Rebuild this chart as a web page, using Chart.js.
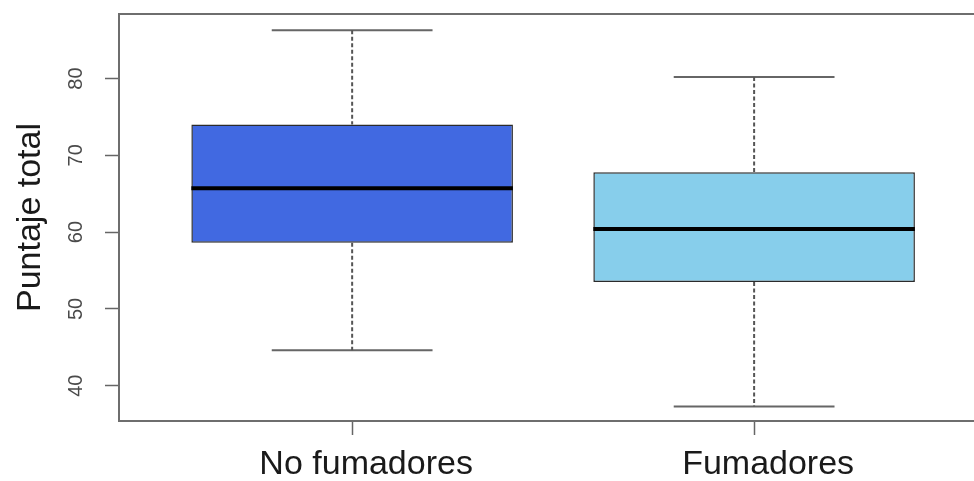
<!DOCTYPE html>
<html>
<head>
<meta charset="utf-8">
<script src="https://cdn.jsdelivr.net/npm/chart.js@4/dist/chart.umd.min.js"></script>
<style>
    html, body { margin: 0; padding: 0; background: #fff; }
    #wrap { width: 974px; height: 481px; }
</style>
</head>
<body>
<div id="wrap"><canvas id="boxChart" width="974" height="481"></canvas></div>
<script>
// Box plot summary
const groups = ['No fumadores', 'Fumadores'];
const lowerWhisker = [44.6, 37.3];
const firstQuartile = [58.6, 53.5];
const medians = [65.7, 60.4];
const thirdQuartile = [74.0, 67.8];
const upperWhisker = [86.3, 80.2];
const boxColors = ['#4169e1', '#87ceeb'];
const yTickValues = [40, 50, 60, 70, 80];

const BOX_HALF = 0.4;   // box half width, in x units
const CAP_HALF = 0.2;   // whisker cap half width

document.addEventListener("DOMContentLoaded", function () {
    renderBoxChart();
});

// build the data for the line datasets (null entries break the line)
function whiskerPoints() {
    const pts = [];
    groups.forEach((g, i) => {
        const x = i + 1;
        pts.push({ x: x, y: upperWhisker[i] }, { x: x, y: thirdQuartile[i] }, { x: x, y: null });
        pts.push({ x: x, y: firstQuartile[i] }, { x: x, y: lowerWhisker[i] }, { x: x, y: null });
    });
    return pts;
}

function capPoints() {
    const pts = [];
    groups.forEach((g, i) => {
        const x = i + 1;
        pts.push({ x: x - CAP_HALF, y: upperWhisker[i] }, { x: x + CAP_HALF, y: upperWhisker[i] }, { x: x, y: null });
        pts.push({ x: x - CAP_HALF, y: lowerWhisker[i] }, { x: x + CAP_HALF, y: lowerWhisker[i] }, { x: x, y: null });
    });
    return pts;
}

function medianPoints() {
    const pts = [];
    groups.forEach((g, i) => {
        const x = i + 1;
        pts.push({ x: x - BOX_HALF, y: medians[i] }, { x: x + BOX_HALF, y: medians[i] }, { x: x, y: null });
    });
    return pts;
}

function renderBoxChart() {
    const ctx = document.getElementById('boxChart').getContext('2d');
    new Chart(ctx, {
        type: 'bar',
        data: {
            datasets: [
                {
                    // the boxes, as floating bars from Q1 to Q3
                    data: groups.map((g, i) => ({ x: i + 1, y: [firstQuartile[i], thirdQuartile[i]] })),
                    backgroundColor: boxColors,
                    borderColor: '#2b2b2b',
                    borderWidth: 1.5,
                    borderSkipped: false,
                    categoryPercentage: 1,
                    barPercentage: 2 * BOX_HALF,
                    order: 3
                },
                {
                    type: 'line',
                    data: whiskerPoints(),
                    borderColor: '#555',
                    borderWidth: 2,
                    borderDash: [4, 2.5],
                    pointRadius: 0,
                    spanGaps: false,
                    order: 2
                },
                {
                    type: 'line',
                    data: capPoints(),
                    borderColor: '#666',
                    borderWidth: 2,
                    pointRadius: 0,
                    spanGaps: false,
                    order: 2
                },
                {
                    type: 'line',
                    data: medianPoints(),
                    borderColor: '#000',
                    borderWidth: 4,
                    pointRadius: 0,
                    spanGaps: false,
                    order: 1
                }
            ]
        },
        options: {
            responsive: false,
            animation: false,
            events: [],
            layout: { padding: { top: 14, right: 0, bottom: 0, left: 0 } },
            plugins: {
                legend: { display: false },
                tooltip: { enabled: false }
            },
            scales: {
                x: {
                    type: 'linear',
                    position: 'bottom',
                    min: 0.42,
                    max: 2.547,
                    offset: false,
                    afterBuildTicks: function (scale) {
                        scale.ticks = groups.map((g, i) => ({ value: i + 1 }));
                    },
                    afterFit: function (scale) { scale.height = 60; },
                    ticks: {
                        autoSkip: false,
                        maxRotation: 0,
                        padding: 9,
                        labelOffset: 14,
                        color: '#1a1a1a',
                        font: { family: 'Liberation Sans, Arial, sans-serif', size: 34 },
                        callback: function (value) { return groups[Math.round(value) - 1]; }
                    },
                    grid: {
                        offset: false,
                        drawOnChartArea: false,
                        tickLength: 14,
                        tickWidth: 1.5,
                        tickColor: '#666'
                    },
                    border: { display: true, color: '#6e6e6e', width: 2 }
                },
                xTop: {
                    type: 'linear',
                    position: 'top',
                    min: 0.42,
                    max: 2.547,
                    afterFit: function (scale) { scale.height = 0; },
                    ticks: { display: false },
                    grid: { display: false, drawTicks: false },
                    border: { display: true, color: '#6e6e6e', width: 2 }
                },
                y: {
                    type: 'linear',
                    min: 35.4,
                    max: 88.4,
                    afterBuildTicks: function (scale) {
                        scale.ticks = yTickValues.map(v => ({ value: v }));
                    },
                    afterFit: function (scale) {
                        scale.width = 119;
                        // rotated labels would otherwise push the plot down
                        scale.paddingTop = 0;
                        scale.paddingBottom = 0;
                    },
                    ticks: {
                        minRotation: 90,
                        maxRotation: 90,
                        crossAlign: 'center',
                        padding: 17,
                        color: '#4a4a4a',
                        font: { family: 'Liberation Sans, Arial, sans-serif', size: 20 }
                    },
                    grid: {
                        drawOnChartArea: false,
                        tickLength: 14,
                        tickWidth: 1.5,
                        tickColor: '#666'
                    },
                    border: { display: true, color: '#6e6e6e', width: 2 },
                    title: {
                        display: true,
                        text: 'Puntaje total',
                        color: '#1a1a1a',
                        padding: { top: 10, bottom: 0 },
                        font: { family: 'Liberation Sans, Arial, sans-serif', size: 34 }
                    }
                }
            }
        }
    });
}
</script>
</body>
</html>
